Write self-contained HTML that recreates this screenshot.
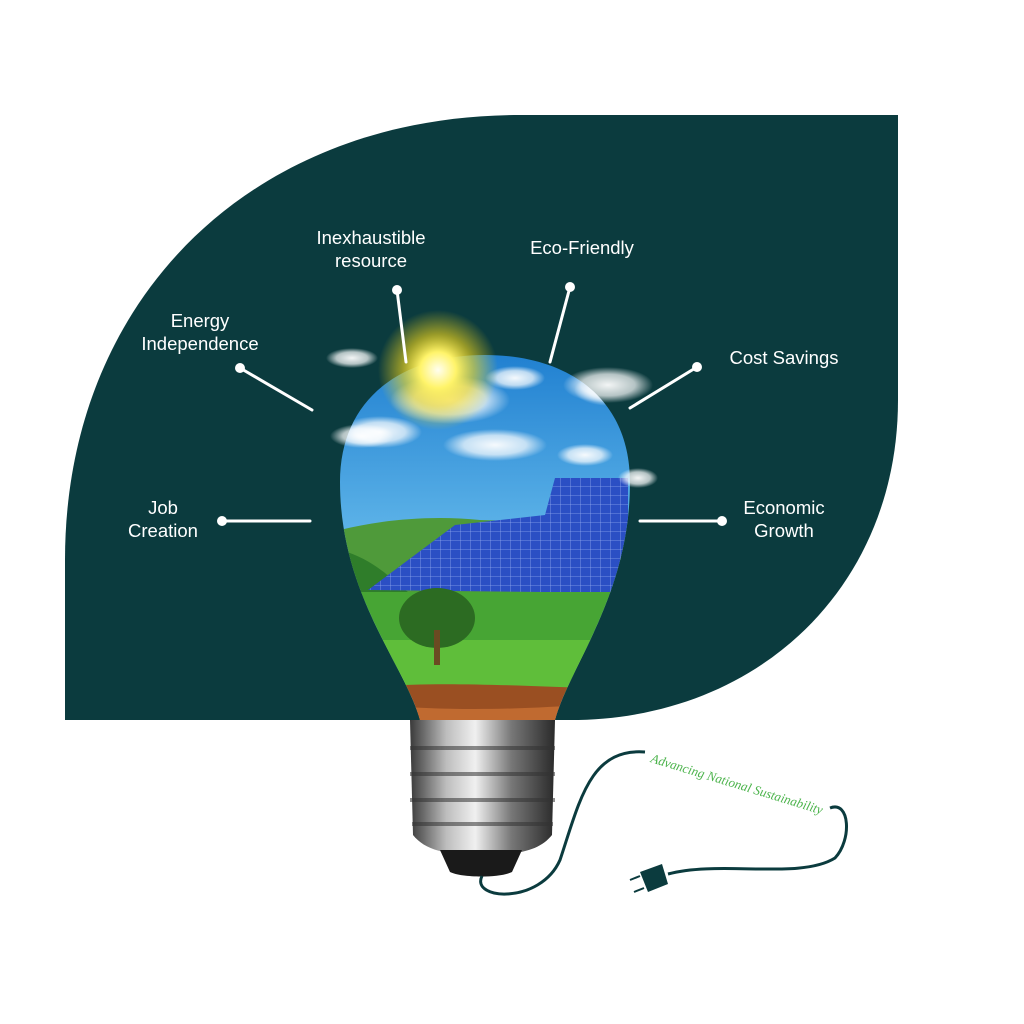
<!DOCTYPE html>
<html><head><meta charset="utf-8"><style>
html,body{margin:0;padding:0;background:#fff;width:1024px;height:1024px;overflow:hidden}
svg{display:block}
text{font-family:"Liberation Sans",sans-serif;fill:#fff;font-size:18.5px}
</style></head><body>
<svg width="1024" height="1024" viewBox="0 0 1024 1024" xmlns="http://www.w3.org/2000/svg">
<defs>
<clipPath id="g"><path d="M420,720 C405,665 340,595 340,482 C340,400 400,355 485,355 C570,355 630,400 630,482 C630,595 570,665 555,720 Z"/></clipPath>
<linearGradient id="sky" x1="0" y1="0" x2="0" y2="1"><stop offset="0" stop-color="#1f7fd0"/><stop offset="0.6" stop-color="#6cc0ee"/><stop offset="1" stop-color="#d6f0fa"/></linearGradient>
<radialGradient id="sun"><stop offset="0" stop-color="#fffef0"/><stop offset="0.3" stop-color="#fff46a"/><stop offset="0.6" stop-color="#f5d81a" stop-opacity="0.6"/><stop offset="1" stop-color="#f5d81a" stop-opacity="0"/></radialGradient>
<radialGradient id="cl"><stop offset="0" stop-color="#fff" stop-opacity="0.95"/><stop offset="0.6" stop-color="#fff" stop-opacity="0.7"/><stop offset="1" stop-color="#fff" stop-opacity="0"/></radialGradient>
<linearGradient id="screw" x1="0" y1="0" x2="1" y2="0"><stop offset="0" stop-color="#3a3a3a"/><stop offset="0.25" stop-color="#bdbdbd"/><stop offset="0.45" stop-color="#f0f0f0"/><stop offset="0.7" stop-color="#777"/><stop offset="1" stop-color="#2a2a2a"/></linearGradient>
<pattern id="cells" width="10" height="9" patternUnits="userSpaceOnUse"><rect width="10" height="9" fill="#2b4fc4"/><path d="M0 0H10M0 0V9" stroke="#8fa8ee" stroke-width="0.8"/></pattern>
</defs>
<path d="M65,720 L65,560 C65,300 250,115 520,115 L898,115 L898,400 C898,585 760,720 570,720 Z" fill="#0b3b3e"/>
<g clip-path="url(#g)">
<rect x="330" y="350" width="310" height="380" fill="url(#sky)"/>
<g fill="url(#cl)">
<ellipse cx="450" cy="400" rx="60" ry="24"/><ellipse cx="515" cy="378" rx="30" ry="12"/>
<ellipse cx="380" cy="432" rx="42" ry="16"/><ellipse cx="495" cy="445" rx="52" ry="16"/>
<ellipse cx="585" cy="455" rx="28" ry="11"/><ellipse cx="610" cy="390" rx="36" ry="16"/>
</g>
<path d="M340,530 C380,520 430,515 480,520 L640,525 L640,600 L340,600 Z" fill="#4f9a3a"/>
<path d="M340,550 C380,560 400,590 420,600 L340,600Z" fill="#2f7d2a"/>
<polygon points="368,590 455,525 545,515 545,592" fill="url(#cells)"/>
<polygon points="540,595 545,515 555,478 628,478 628,595" fill="url(#cells)"/>
<rect x="340" y="592" width="300" height="100" fill="#47a534"/>
<rect x="340" y="640" width="300" height="55" fill="#5fbe3a"/>
<ellipse cx="437" cy="618" rx="38" ry="30" fill="#2c6b22"/>
<rect x="434" y="630" width="6" height="35" fill="#6b4a22"/>
<path d="M340,690 C420,680 500,685 640,690 L640,730 L340,730Z" fill="#9a4f22"/>
<path d="M340,700 C420,712 520,712 640,700 L640,730 L340,730Z" fill="#c06a30"/>
</g>
<circle cx="438" cy="370" r="60" fill="url(#sun)"/>
<g fill="url(#cl)">
<ellipse cx="352" cy="358" rx="26" ry="10"/><ellipse cx="362" cy="436" rx="32" ry="12"/>
<ellipse cx="608" cy="385" rx="45" ry="18"/><ellipse cx="638" cy="478" rx="20" ry="10"/>
</g>
<path d="M410,720 H555 L552,835 C540,850 520,855 482,855 C445,855 425,850 413,835 Z" fill="url(#screw)"/>
<g stroke="#333" stroke-width="4" opacity="0.55">
<path d="M410,748 H555 M410,774 H555 M410,800 H555 M412,824 H553"/>
</g>
<path d="M440,850 H522 L512,872 C500,878 462,878 450,872 Z" fill="#1a1a1a"/>
<path d="M482,876 C470,900 540,905 560,860 C580,800 590,748 645,752" fill="none" stroke="#0b3b3e" stroke-width="3"/>
<path d="M830,808 C850,800 852,840 835,858 C800,880 720,860 668,874" fill="none" stroke="#0b3b3e" stroke-width="3"/>
<path d="M640,872 L662,864 L668,884 L648,892 Z" fill="#0b3b3e"/>
<path d="M640,876 L630,880 M644,888 L634,892" stroke="#0b3b3e" stroke-width="2"/>
<text x="650" y="762" transform="rotate(17 650 762)" style="fill:#4bb34b;font-family:'Liberation Serif',serif;font-style:italic;font-size:13px">Advancing National Sustainability</text>
<g stroke="#fff" stroke-width="3" stroke-linecap="round">
<line x1="397" y1="290" x2="406" y2="362"/><line x1="570" y1="287" x2="550" y2="362"/>
<line x1="240" y1="368" x2="312" y2="410"/><line x1="697" y1="367" x2="630" y2="408"/>
<line x1="222" y1="521" x2="310" y2="521"/><line x1="722" y1="521" x2="640" y2="521"/>
</g>
<g fill="#fff"><circle cx="397" cy="290" r="5"/><circle cx="570" cy="287" r="5"/><circle cx="240" cy="368" r="5"/><circle cx="697" cy="367" r="5"/><circle cx="222" cy="521" r="5"/><circle cx="722" cy="521" r="5"/></g>
<g text-anchor="middle">
<text x="371" y="244">Inexhaustible</text><text x="371" y="267">resource</text>
<text x="582" y="254">Eco-Friendly</text>
<text x="200" y="327">Energy</text><text x="200" y="350">Independence</text>
<text x="784" y="364">Cost Savings</text>
<text x="163" y="514">Job</text><text x="163" y="537">Creation</text>
<text x="784" y="514">Economic</text><text x="784" y="537">Growth</text>
</g>
</svg>
</body></html>
